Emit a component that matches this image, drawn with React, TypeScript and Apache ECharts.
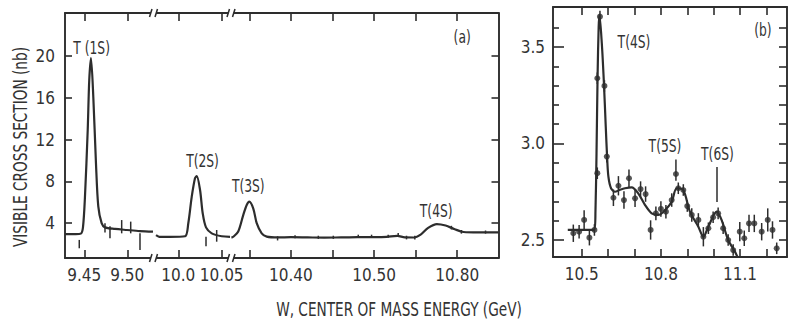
import React, { useEffect, useRef } from "react";
import * as echarts from "echarts";

const FONT = '"Liberation Sans Narrow", "DejaVu Sans Condensed", "Arial Narrow", "DejaVu Sans", sans-serif';
const INK = "#2d2d2d";
const TXT = "#333333";

// ---------- panel (a): broken energy axis, three segments ----------
const segRangeA: [number, number][] = [[9.4276, 9.5305], [9.9714, 10.0607], [10.328, 10.6496]];
const tickValuesA: number[][] = [[9.45, 9.5], [10.0, 10.05], [10.35, 10.4, 10.45, 10.5, 10.55, 10.6]];
const labelValuesA: number[][] = [[9.45, 9.5], [10.0, 10.05], [10.4, 10.5, 10.6]];
const labelTextsA: string[][] = [["9.45", "9.50"], ["10.0", "10.05"], ["10.40", "10.50", "10.80"]];
const yTicksA = [4, 8, 12, 16, 20];
const yRangeA: [number, number] = [0.67, 24.11];

const curveA1: [number, number][] = [
  [9.4276, 2.95], [9.44, 2.95], [9.446, 3.0], [9.4485, 3.6], [9.4508, 6.5], [9.454, 12.9],
  [9.4558, 17.7], [9.4578, 19.8], [9.4605, 16.1], [9.4636, 9.75], [9.4663, 5.6], [9.4702, 4.0],
  [9.4741, 3.6], [9.4857, 3.45], [9.4997, 3.35], [9.5148, 3.25], [9.5299, 3.2],
];
const curveA2: [number, number][] = [
  [9.9743, 2.85], [9.978, 2.7], [9.9904, 2.7], [10.0077, 2.75], [10.0115, 4.0], [10.0154, 6.5],
  [10.0192, 8.3], [10.0212, 8.5], [10.025, 7.2], [10.0281, 4.95], [10.0319, 3.6], [10.0385, 3.03],
  [10.05, 2.75], [10.0596, 2.7],
];
const curveA3: [number, number][] = [
  [10.3285, 2.62], [10.3307, 2.7], [10.3367, 3.2], [10.3428, 4.8], [10.3469, 5.74], [10.35, 6.06],
  [10.3548, 5.4], [10.3589, 4.0], [10.3649, 3.03], [10.371, 2.72], [10.3846, 2.64], [10.4, 2.66],
  [10.42, 2.64], [10.44, 2.62], [10.46, 2.64], [10.48, 2.66], [10.5, 2.67], [10.515, 2.7],
  [10.528, 2.78], [10.537, 2.64], [10.548, 2.63], [10.556, 2.9], [10.565, 3.55], [10.5755, 3.92],
  [10.586, 3.78], [10.597, 3.42], [10.6075, 3.16], [10.625, 3.12], [10.6496, 3.13],
];
// error bars: [energy, low, high]
const errA1: [number, number, number][] = [
  [9.4442, 1.6, 2.4], [9.4741, 3.1, 4.0], [9.4799, 2.55, 3.7], [9.4935, 3.03, 4.3],
  [9.504, 3.03, 4.15], [9.5148, 1.44, 3.03],
];
const errA2: [number, number, number][] = [[10.0319, 1.8, 2.7], [10.0442, 2.23, 3.35]];
const errA3: [number, number, number][] = [
  [10.384, 2.35, 2.75], [10.405, 2.55, 2.85], [10.433, 2.5, 2.8], [10.451, 2.5, 2.8],
  [10.481, 2.6, 2.9], [10.497, 2.6, 2.9], [10.517, 2.6, 2.9], [10.529, 2.7, 3.05],
  [10.539, 2.45, 2.8], [10.549, 2.45, 2.8], [10.593, 3.4, 3.75], [10.605, 3.0, 3.35],
  [10.634, 3.0, 3.3],
];

// ---------- panel (b) ----------
const xRangeB: [number, number] = [10.391, 11.278];
const yRangeB: [number, number] = [2.412, 3.707];
const xTicksB = [10.5, 10.6, 10.7, 10.8, 10.9, 11.0, 11.1, 11.2];
const xLabelsB = [10.5, 10.8, 11.1];
const yMajorB = [2.5, 3.0, 3.5];
const yMinorB = [2.6, 2.7, 2.8, 2.9, 3.1, 3.2, 3.3, 3.4, 3.6];
const curveB: [number, number][] = [
  [10.447, 2.552], [10.5, 2.552], [10.548, 2.552], [10.552, 2.65], [10.556, 2.95], [10.56, 3.35],
  [10.564, 3.6], [10.567, 3.666], [10.576, 3.519], [10.584, 3.312], [10.591, 3.087], [10.596, 2.932],
  [10.601, 2.828], [10.611, 2.768], [10.626, 2.75], [10.645, 2.76], [10.664, 2.768], [10.689, 2.773],
  [10.714, 2.742], [10.74, 2.681], [10.765, 2.638], [10.79, 2.63], [10.816, 2.655], [10.841, 2.698],
  [10.86, 2.768], [10.885, 2.759], [10.91, 2.647], [10.942, 2.569], [10.961, 2.517], [10.98, 2.569],
  [11.011, 2.647], [11.03, 2.604], [11.055, 2.5], [11.081, 2.439], [11.1, 2.38],
];
const pointsB: [number, number][] = [
  [10.468, 2.535], [10.49, 2.543], [10.509, 2.604], [10.529, 2.512], [10.548, 2.552],
  [10.559, 2.846], [10.559, 3.338], [10.569, 3.657], [10.586, 3.298], [10.595, 2.932],
  [10.62, 2.719], [10.639, 2.781], [10.66, 2.707], [10.679, 2.82], [10.702, 2.716],
  [10.723, 2.764], [10.742, 2.738], [10.761, 2.552], [10.781, 2.638], [10.8, 2.661],
  [10.819, 2.647], [10.841, 2.707], [10.857, 2.842], [10.866, 2.768], [10.885, 2.759],
  [10.9, 2.676], [10.917, 2.63], [10.942, 2.604], [10.961, 2.517], [10.98, 2.561],
  [10.998, 2.618], [11.017, 2.638], [11.036, 2.561], [11.055, 2.5], [11.074, 2.448],
  [11.099, 2.543], [11.116, 2.509], [11.134, 2.586], [11.154, 2.586], [11.182, 2.543],
  [11.205, 2.604], [11.223, 2.552], [11.239, 2.457],
];
const errB: [number, number][] = [
  [0.045, 0.045], [0.035, 0.035], [0.05, 0.05], [0.04, 0.04], [0.03, 0.03],
  [0.03, 0.03], [0.03, 0.03], [0.03, 0.03], [0.03, 0.03], [0.03, 0.03],
  [0.043, 0.043], [0.05, 0.05], [0.045, 0.045], [0.045, 0.045], [0.045, 0.045],
  [0.04, 0.04], [0.04, 0.04], [0.05, 0.05], [0.035, 0.035], [0.04, 0.04],
  [0.035, 0.035], [0.035, 0.035], [0.035, 0.075], [0.03, 0.03], [0.03, 0.03],
  [0.03, 0.03], [0.035, 0.035], [0.035, 0.035], [0.05, 0.05], [0.03, 0.03],
  [0.03, 0.03], [0.03, 0.03], [0.03, 0.03], [0.03, 0.03], [0.03, 0.03],
  [0.05, 0.05], [0.04, 0.04], [0.045, 0.045], [0.045, 0.045], [0.045, 0.045],
  [0.06, 0.06], [0.045, 0.045], [0.03, 0.03],
];
const line6S: [number, number, number] = [11.011, 2.697, 2.878];

// annotation anchors (data coordinates of the text centres)
const annotA = [
  { seg: 0, name: "T (1S)", coord: [9.4586, 20.8] },
  { seg: 1, name: "T(2S)", coord: [10.0279, 9.97] },
  { seg: 2, name: "T(3S)", coord: [10.3488, 7.58] },
  { seg: 2, name: "T(4S)", coord: [10.5747, 5.19] },
  { seg: 2, name: "(a)", coord: [10.6059, 21.85] },
];
const annotB = [
  { name: "T(4S)", coord: [10.698, 3.526] },
  { name: "T(5S)", coord: [10.8155, 2.987] },
  { name: "T(6S)", coord: [11.0144, 2.945] },
  { name: "(b)", coord: [11.1867, 3.588] },
];

const GA = [{ left: 65, width: 88.5 }, { left: 153.5, width: 77.5 }, { left: 231, width: 267.5 }];
const GA_TOP = 13;
const GA_H = 245;
const GB = { left: 553, top: 7, width: 234, height: 250 };
const BREAK_X = [153.5, 231];

function labelFor(v: number, vals: number[], texts: string[]) {
  for (let i = 0; i < vals.length; i++) if (Math.abs(vals[i] - v) < 1e-6) return texts[i];
  return "";
}

const axisLine = { show: true, onZero: false, lineStyle: { color: INK, width: 1.9 } };
const tickLine = { color: INK, width: 1.6 };
const labelFont = { fontSize: 17, fontFamily: FONT, color: TXT };

function errRender(params: any, api: any) {
  const x = api.value(0);
  const p1 = api.coord([x, api.value(1)]);
  const p2 = api.coord([x, api.value(2)]);
  return {
    type: "line",
    shape: { x1: p1[0], y1: p1[1], x2: p2[0], y2: p2[1] },
    style: { stroke: INK, lineWidth: 1.5 },
  };
}

function textEl(text: string, x: number, y: number, size: number, sx: number, rotation = 0) {
  return {
    type: "text", x, y, rotation, scaleX: sx, z: 100,
    style: {
      text, fontSize: size, fontFamily: FONT, fill: TXT,
      textAlign: "center", textVerticalAlign: "middle", align: "center", verticalAlign: "middle",
    },
  };
}

function buildOption(): any {
  const grid: any[] = GA.map((g) => ({ left: g.left, top: GA_TOP, width: g.width, height: GA_H }));
  grid.push({ ...GB });

  const xAxis: any[] = [];
  segRangeA.forEach((r, i) => {
    const common = {
      type: "value", gridIndex: i, min: r[0], max: r[1],
      splitLine: { show: false }, axisLine,
    };
    xAxis.push({
      ...common, position: "bottom",
      axisTick: { show: true, inside: true, length: 8, customValues: tickValuesA[i], lineStyle: tickLine },
      axisLabel: {
        show: true, customValues: labelValuesA[i], margin: 8, ...labelFont,
        formatter: (v: number) => labelFor(v, labelValuesA[i], labelTextsA[i]),
      },
    });
    xAxis.push({
      ...common, position: "top",
      axisTick: { show: true, inside: true, length: 8, customValues: tickValuesA[i], lineStyle: tickLine },
      axisLabel: { show: false },
    });
  });
  const commonB = { type: "value", gridIndex: 3, min: xRangeB[0], max: xRangeB[1], splitLine: { show: false }, axisLine };
  xAxis.push({
    ...commonB, position: "bottom",
    axisTick: { show: true, inside: true, length: 8, customValues: xTicksB, lineStyle: tickLine },
    axisLabel: { show: true, customValues: xLabelsB, margin: 8, ...labelFont, formatter: (v: number) => v.toFixed(1) },
  });
  xAxis.push({
    ...commonB, position: "top",
    axisTick: { show: true, inside: true, length: 8, customValues: xTicksB, lineStyle: tickLine },
    axisLabel: { show: false },
  });

  const yAxis: any[] = [
    {
      type: "value", gridIndex: 0, position: "left", min: yRangeA[0], max: yRangeA[1], axisLine,
      splitLine: { show: false },
      axisTick: { show: true, inside: true, length: 7, customValues: yTicksA, lineStyle: tickLine },
      axisLabel: { show: true, customValues: yTicksA, margin: 10, ...labelFont },
    },
    { type: "value", gridIndex: 1, show: false, min: yRangeA[0], max: yRangeA[1] },
    {
      type: "value", gridIndex: 2, position: "right", min: yRangeA[0], max: yRangeA[1], axisLine,
      splitLine: { show: false },
      axisTick: { show: true, inside: true, length: 7, customValues: yTicksA, lineStyle: tickLine },
      axisLabel: { show: false },
    },
    {
      type: "value", gridIndex: 3, position: "left", min: yRangeB[0], max: yRangeB[1], axisLine,
      splitLine: { show: false },
      axisTick: { show: true, inside: true, length: 11, customValues: yMajorB, lineStyle: tickLine },
      axisLabel: { show: true, customValues: yMajorB, margin: 8, ...labelFont, formatter: (v: number) => v.toFixed(1) },
    },
    {
      type: "value", gridIndex: 3, position: "left", min: yRangeB[0], max: yRangeB[1],
      axisLine: { show: false }, splitLine: { show: false },
      axisTick: { show: true, inside: true, length: 6, customValues: yMinorB, lineStyle: tickLine },
      axisLabel: { show: false },
    },
    {
      type: "value", gridIndex: 3, position: "right", min: yRangeB[0], max: yRangeB[1], axisLine,
      splitLine: { show: false },
      axisTick: { show: true, inside: true, length: 8, customValues: [...yMajorB, ...yMinorB], lineStyle: tickLine },
      axisLabel: { show: false },
    },
  ];

  const curves = [curveA1, curveA2, curveA3];
  const errs = [errA1, errA2, errA3];
  const series: any[] = [];
  curves.forEach((c, i) => {
    series.push({
      type: "line", xAxisIndex: i * 2, yAxisIndex: i, data: c, showSymbol: false,
      smooth: 0.3, lineStyle: { color: INK, width: 2.2 }, clip: true,
    });
    series.push({
      type: "custom", xAxisIndex: i * 2, yAxisIndex: i, data: errs[i], renderItem: errRender,
      encode: { x: 0, y: [1, 2] }, clip: true,
    });
  });

  series.push({
    type: "line", xAxisIndex: 6, yAxisIndex: 3, data: curveB, showSymbol: false, smooth: 0.3,
    lineStyle: { color: INK, width: 2.2 }, clip: true,
    markLine: {
      silent: true, symbol: ["none", "none"], label: { show: false },
      lineStyle: { color: INK, width: 1.5, type: "solid" },
      data: [[{ coord: [line6S[0], line6S[1]] }, { coord: [line6S[0], line6S[2]] }]],
    },
  });
  series.push({
    type: "custom", xAxisIndex: 6, yAxisIndex: 3, renderItem: errRender, clip: true,
    encode: { x: 0, y: [1, 2] },
    data: pointsB.map((p, i) => [p[0], p[1] - errB[i][0], p[1] + errB[i][1]]),
  });
  series.push({
    type: "scatter", xAxisIndex: 6, yAxisIndex: 3, data: pointsB, symbol: "circle", symbolSize: 6,
    itemStyle: { color: INK }, clip: true,
  });

  return { animation: false, backgroundColor: "#ffffff", grid, xAxis, yAxis, series };
}

function buildGraphic(chart: any): any[] {
  const graphic: any[] = [
    textEl("VISIBLE CROSS SECTION (nb)", 20, 147, 20, 0.76, Math.PI / 2),
    textEl("W, CENTER OF MASS ENERGY (GeV)", 399, 309, 20, 0.76),
  ];
  annotA.forEach((a) => {
    const p = chart.convertToPixel({ seriesIndex: a.seg * 2 }, a.coord);
    if (p) graphic.push(textEl(a.name, p[0], p[1], 18, 0.76));
  });
  annotB.forEach((a) => {
    const p = chart.convertToPixel({ seriesIndex: 6 }, a.coord);
    if (p) graphic.push(textEl(a.name, p[0], p[1], 18, 0.76));
  });
  BREAK_X.forEach((bx) => {
    [GA_TOP, GA_TOP + GA_H].forEach((by) => {
      graphic.push({ type: "rect", z: 100, shape: { x: bx - 2.5, y: by - 2, width: 5, height: 4 }, style: { fill: "#fff" } });
      graphic.push({ type: "line", z: 101, shape: { x1: bx - 4, y1: by + 4, x2: bx - 1.5, y2: by - 4 }, style: { stroke: INK, lineWidth: 1.5 } });
      graphic.push({ type: "line", z: 101, shape: { x1: bx + 1.5, y1: by + 4, x2: bx + 4, y2: by - 4 }, style: { stroke: INK, lineWidth: 1.5 } });
    });
  });
  return graphic;
}

export default function App() {
  const ref = useRef<HTMLDivElement>(null);
  useEffect(() => {
    document.body.style.margin = "0";
    const chart = echarts.init(ref.current as HTMLDivElement, null, { renderer: "svg" });
    chart.setOption(buildOption());
    chart.setOption({ graphic: buildGraphic(chart) });
    return () => chart.dispose();
  }, []);
  return <div ref={ref} style={{ width: 790, height: 323, background: "#fff" }} />;
}
